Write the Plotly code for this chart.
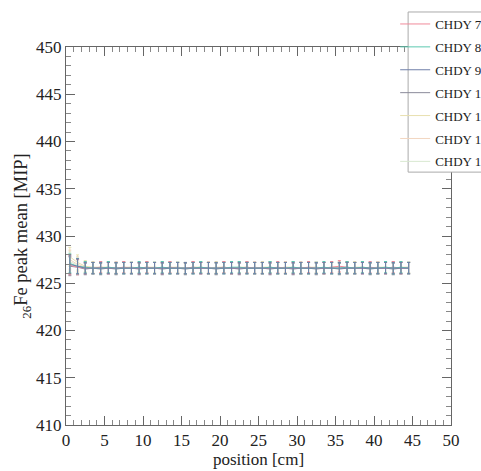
import plotly.graph_objects as go

positions = [0.5, 1.5, 2.5, 3.5, 4.5, 5.5, 6.5, 7.5, 8.5, 9.5, 10.5, 11.5, 12.5, 13.5, 14.5,
             15.5, 16.5, 17.5, 18.5, 19.5, 20.5, 21.5, 22.5, 23.5, 24.5, 25.5, 26.5, 27.5, 28.5, 29.5,
             30.5, 31.5, 32.5, 33.5, 34.5, 35.5, 36.5, 37.5, 38.5, 39.5, 40.5, 41.5, 42.5, 43.5, 44.5]

names = ["CHDY 7", "CHDY 8", "CHDY 9", "CHDY 10", "CHDY 11", "CHDY 12", "CHDY 13"]
colors = ["#f08a9a", "#5cc8b0", "#6f7fa8", "#8a8a9a", "#e8e0b0", "#f2d6c0", "#d8e8d0"]

chdy7 = [426.9, 426.7, 426.6, 426.6, 426.7, 426.6, 426.6, 426.7, 426.6, 426.6, 426.7, 426.6, 426.6, 426.7, 426.6,
         426.6, 426.7, 426.6, 426.6, 426.6, 426.7, 426.6, 426.6, 426.7, 426.6, 426.6, 426.6, 426.7, 426.6, 426.6,
         426.6, 426.7, 426.6, 426.6, 426.7, 426.8, 426.7, 426.6, 426.6, 426.7, 426.6, 426.6, 426.7, 426.6, 426.6]
chdy8 = [427.1, 426.8, 426.7, 426.6, 426.6, 426.7, 426.6, 426.6, 426.6, 426.7, 426.6, 426.6, 426.7, 426.6, 426.6,
         426.6, 426.6, 426.7, 426.6, 426.6, 426.6, 426.7, 426.7, 426.6, 426.6, 426.6, 426.7, 426.6, 426.6, 426.7,
         426.6, 426.6, 426.6, 426.7, 426.6, 426.6, 426.7, 426.6, 426.7, 426.6, 426.6, 426.7, 426.6, 426.7, 426.6]
chdy9 = [427.0, 426.8, 426.6, 426.6, 426.6, 426.6, 426.6, 426.6, 426.6, 426.6, 426.6, 426.6, 426.6, 426.6, 426.6,
         426.6, 426.6, 426.6, 426.6, 426.6, 426.6, 426.6, 426.6, 426.6, 426.6, 426.6, 426.6, 426.6, 426.6, 426.6,
         426.6, 426.6, 426.6, 426.6, 426.6, 426.6, 426.6, 426.6, 426.6, 426.6, 426.6, 426.6, 426.6, 426.6, 426.6]
chdy10 = [426.8, 426.7, 426.5, 426.6, 426.5, 426.6, 426.5, 426.6, 426.6, 426.5, 426.6, 426.6, 426.5, 426.6, 426.6,
          426.5, 426.6, 426.6, 426.6, 426.5, 426.6, 426.6, 426.5, 426.6, 426.6, 426.6, 426.5, 426.6, 426.6, 426.5,
          426.6, 426.6, 426.5, 426.6, 426.6, 426.5, 426.6, 426.6, 426.6, 426.5, 426.6, 426.6, 426.5, 426.6, 426.6]
chdy11 = [427.8, 427.2, 426.8, 426.7, 426.7, 426.7, 426.6, 426.7, 426.7, 426.6, 426.7, 426.7, 426.6, 426.7, 426.7,
          426.6, 426.7, 426.7, 426.6, 426.7, 426.7, 426.6, 426.7, 426.7, 426.6, 426.7, 426.7, 426.6, 426.7, 426.7,
          426.6, 426.7, 426.7, 426.6, 426.7, 426.7, 426.6, 426.7, 426.7, 426.6, 426.7, 426.7, 426.6, 426.7, 426.7]
chdy12 = [427.5, 427.0, 426.7, 426.6, 426.7, 426.6, 426.7, 426.6, 426.7, 426.6, 426.7, 426.6, 426.7, 426.6, 426.7,
          426.6, 426.7, 426.6, 426.7, 426.6, 426.7, 426.6, 426.7, 426.6, 426.7, 426.6, 426.7, 426.6, 426.7, 426.6,
          426.7, 426.6, 426.7, 426.6, 426.7, 426.6, 426.7, 426.6, 426.7, 426.6, 426.7, 426.6, 426.7, 426.6, 426.7]
chdy13 = [427.3, 426.9, 426.6, 426.6, 426.6, 426.7, 426.6, 426.6, 426.7, 426.6, 426.6, 426.7, 426.6, 426.6, 426.7,
          426.6, 426.6, 426.7, 426.6, 426.6, 426.7, 426.6, 426.6, 426.7, 426.6, 426.6, 426.7, 426.6, 426.6, 426.7,
          426.6, 426.6, 426.7, 426.6, 426.6, 426.7, 426.6, 426.6, 426.7, 426.6, 426.6, 426.7, 426.6, 426.6, 426.7]
errors = [1.0, 0.8, 0.6, 0.6, 0.6, 0.6, 0.6, 0.6, 0.6, 0.6, 0.6, 0.6, 0.6, 0.6, 0.6,
          0.6, 0.6, 0.6, 0.6, 0.6, 0.6, 0.6, 0.6, 0.6, 0.6, 0.6, 0.6, 0.6, 0.6, 0.6,
          0.6, 0.6, 0.6, 0.6, 0.6, 0.6, 0.6, 0.6, 0.6, 0.6, 0.6, 0.6, 0.6, 0.6, 0.6]

series = [chdy7, chdy8, chdy9, chdy10, chdy11, chdy12, chdy13]
draw_order = [4, 5, 6, 3, 0, 1, 2]

fig = go.Figure()
for i in draw_order:
    fig.add_trace(go.Scatter(
        x=positions, y=series[i], name=names[i], mode="lines",
        legendgroup=names[i], legendrank=i + 1,
        line=dict(color=colors[i], width=1),
        error_y=dict(type="data", array=errors, color=colors[i], thickness=1, width=1.5),
    ))

serif = "Times New Roman"
axis_common = dict(
    showgrid=False, zeroline=False, showline=True, linecolor="#666666", linewidth=1,
    mirror="allticks", ticks="inside", ticklen=9, tickcolor="#666666",
    tickfont=dict(family=serif, size=17, color="#222222"),
)
fig.update_xaxes(
    range=[0, 50], dtick=5, tick0=0,
    minor=dict(dtick=1, ticks="inside", ticklen=5, tickcolor="#888888"),
    title=dict(text="position [cm]", font=dict(family=serif, size=17, color="#222222"), standoff=2),
    **axis_common,
)
fig.update_yaxes(
    range=[410, 450], dtick=5, tick0=410,
    minor=dict(dtick=1, ticks="inside", ticklen=5, tickcolor="#888888"),
    title=dict(text="<sub>26</sub>Fe peak mean [MIP]", font=dict(family=serif, size=18.5, color="#222222"), standoff=3),
    **axis_common,
)
fig.update_layout(
    width=481, height=471,
    margin=dict(l=66, r=30, t=47, b=46, autoexpand=False),
    paper_bgcolor="white", plot_bgcolor="white",
    showlegend=True,
    shapes=[dict(type="rect", xref="paper", yref="paper", x0=0.8886, x1=1.08, y0=0.669, y1=1.0926,
                 fillcolor="white", line=dict(color="#aaaaaa", width=1), layer="above")],
    legend=dict(
        x=0.855, y=1.1005, xanchor="left", yanchor="top",
        bgcolor="rgba(0,0,0,0)", borderwidth=0,
        font=dict(family=serif, size=13, color="#222222"),
        tracegroupgap=3, itemwidth=30, traceorder="grouped",
    ),
)
fig.write_html("out.html")
